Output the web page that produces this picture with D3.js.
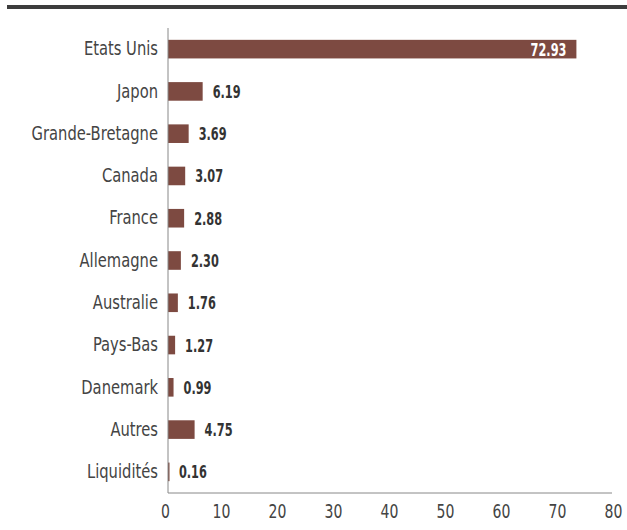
<!DOCTYPE html>
<html>
<head>
<meta charset="utf-8">
<script src="https://cdn.jsdelivr.net/npm/d3@7"></script>
<style>
  body { margin: 0; background: #fff; }
  text { font-family: "DejaVu Sans Condensed", "DejaVu Sans", sans-serif; }
</style>
</head>
<body>
<div id="chart"></div>
<script>
// data
let pays = ["Etats Unis", "Japon", "Grande-Bretagne", "Canada", "France", "Allemagne",
  "Australie", "Pays-Bas", "Danemark", "Autres", "Liquidités"];
let poids = [72.93, 6.19, 3.69, 3.07, 2.88, 2.30, 1.76, 1.27, 0.99, 4.75, 0.16];
let ticks = [0, 10, 20, 30, 40, 50, 60, 70, 80];

let rows = pays.map((p, i) => ({ pays: p, val: poids[i] }));

let width = 627, height = 530;
let plotTop = 28, plotBottom = 493;
// the fonts here are wider than the original condensed face, squeeze them
let sqLabel = 0.84, sqVal = 0.7, sqTick = 0.78;

let svg = d3.select("#chart").append("svg")
  .attr("width", width)
  .attr("height", height);

// dark rule at top
svg.append("rect")
  .attr("x", 7).attr("y", 5)
  .attr("width", 620).attr("height", 4)
  .attr("fill", "#3d3d3d");

let xScale = d3.scaleLinear().domain([0, 80]).range([168, 616]);

let yScale = d3.scaleBand()
  .domain(pays)
  .range([plotTop, plotBottom])
  .paddingInner(0.56)
  .paddingOuter(0.28);

svg.selectAll("rect.bar")
  .data(rows)
  .enter()
  .append("rect")
  .attr("class", "bar")
  .attr("fill", "#7d4a41")
  .attr("x", xScale(0))
  .attr("y", d => yScale(d.pays))
  .attr("width", d => Math.max(1.5, xScale(d.val) - xScale(0)))
  .attr("height", yScale.bandwidth());

// value labels
svg.selectAll("text.val")
  .data(rows)
  .enter()
  .append("text")
  .attr("class", "val")
  .attr("transform", d => {
    let x = d.val > 50 ? xScale(d.val) - 10 : xScale(d.val) + 10;
    let y = yScale(d.pays) + yScale.bandwidth() / 2;
    return `translate(${x},${y}) scale(${sqVal},1)`;
  })
  .attr("dy", "0.36em")
  .attr("text-anchor", d => d.val > 50 ? "end" : "start")
  .attr("fill", d => d.val > 50 ? "#fff" : "#333")
  .attr("font-weight", "bold")
  .attr("font-size", 18)
  .text(d => d.val.toFixed(2));

// y axis (categories)
let yAxis = d3.axisLeft(yScale).tickSize(0).tickPadding(10);
let gy = svg.append("g").attr("transform", `translate(${xScale(0)},0)`).call(yAxis);
gy.select(".domain").attr("stroke", "#888").attr("d", `M0,${plotTop}V${plotBottom}`);
gy.selectAll("text")
  .attr("x", -10 / sqLabel)
  .attr("transform", `scale(${sqLabel},1)`)
  .attr("font-size", 19.5).attr("fill", "#444")
  .style("font-family", "\"DejaVu Sans Condensed\", \"DejaVu Sans\", sans-serif");

// x axis
let xAxis = d3.axisBottom(xScale).tickValues(ticks).tickSize(0).tickPadding(10)
  .tickFormat(d3.format("d"));
let gx = svg.append("g").attr("transform", `translate(0,${plotBottom})`).call(xAxis);
gx.select(".domain").attr("stroke", "#888").attr("d", `M${xScale(0)},0H612`);
gx.selectAll("text")
  .attr("x", -3 / sqTick)
  .attr("transform", `scale(${sqTick},1)`)
  .attr("font-size", 20).attr("fill", "#444")
  .attr("dy", "0.75em")
  .style("font-family", "\"DejaVu Sans Condensed\", \"DejaVu Sans\", sans-serif");
</script>
</body>
</html>
